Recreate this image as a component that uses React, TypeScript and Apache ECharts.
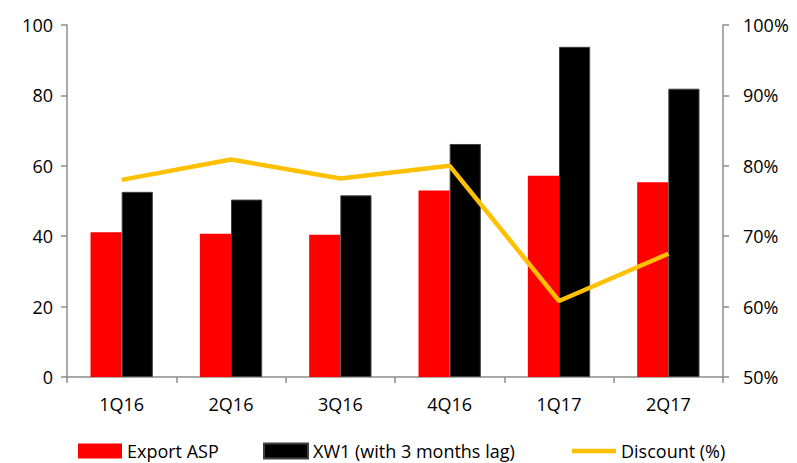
import React, { useEffect, useRef } from "react";
import * as echarts from "echarts";

const categories = ["1Q16", "2Q16", "3Q16", "4Q16", "1Q17", "2Q17"];
const exportAsp = [41.1, 40.7, 40.4, 53.0, 57.2, 55.3];
const xw1 = [52.6, 50.4, 51.6, 66.2, 93.8, 81.9];
const discount = [78.0, 80.9, 78.2, 80.0, 60.8, 67.5];

const FONT = "'Open Sans', 'Liberation Sans', sans-serif";

export default function App() {
  const ref = useRef<HTMLDivElement>(null);
  useEffect(() => {
    if (!ref.current) return;
    const chart = echarts.init(ref.current, undefined, { renderer: "svg" });
    const axisColor = "#8c8c8c";
    const legendBase = {
      bottom: 1,
      itemWidth: 44,
      itemHeight: 15,
      padding: 0,
      textStyle: { fontFamily: FONT, fontSize: 18, lineHeight: 22, color: "#000" },
    };
    chart.setOption({
      animation: false,
      backgroundColor: "#ffffff",
      textStyle: { fontFamily: FONT, color: "#000" },
      grid: { left: 67, right: 74, top: 25, bottom: 86 },
      legend: [
        { ...legendBase, left: 78, data: [{ name: "Export ASP", icon: "rect" }] },
        { ...legendBase, left: 263, data: [{ name: "XW1 (with 3 months lag)", icon: "rect" }] },
        {
          ...legendBase,
          left: 572,
          data: [{ name: "Discount (%)", icon: "path://M0,0 L44,0 L44,4.5 L0,4.5 Z" }],
        },
      ],
      xAxis: {
        type: "category",
        data: categories,
        axisLine: { lineStyle: { color: axisColor, width: 1.5 } },
        axisTick: { show: true, alignWithLabel: false, length: 6, lineStyle: { color: axisColor, width: 1.5 } },
        axisLabel: { fontSize: 18, color: "#000", margin: 18, fontFamily: FONT },
      },
      yAxis: [
        {
          type: "value",
          min: 0,
          max: 100,
          interval: 20,
          splitLine: { show: false },
          axisLine: { show: true, lineStyle: { color: axisColor, width: 1.5 } },
          axisTick: { show: true, length: 6, lineStyle: { color: axisColor, width: 1.5 } },
          axisLabel: { fontSize: 18, color: "#000", margin: 14, fontFamily: FONT },
        },
        {
          type: "value",
          min: 50,
          max: 100,
          interval: 10,
          position: "right",
          splitLine: { show: false },
          axisLine: { show: true, lineStyle: { color: axisColor, width: 1.5 } },
          axisTick: { show: true, length: 6, lineStyle: { color: axisColor, width: 1.5 } },
          axisLabel: { fontSize: 18, color: "#000", margin: 20, formatter: "{value}%", fontFamily: FONT },
        },
      ],
      series: [
        {
          name: "Export ASP",
          type: "bar",
          data: exportAsp,
          barGap: "0%",
          barCategoryGap: "43%",
          itemStyle: { color: "#ff0000" },
        },
        {
          name: "XW1 (with 3 months lag)",
          type: "bar",
          data: xw1,
          itemStyle: { color: "#000000", borderColor: "#404040", borderWidth: 1 },
        },
        {
          name: "Discount (%)",
          type: "line",
          yAxisIndex: 1,
          data: discount,
          symbol: "none",
          lineStyle: { color: "#ffc000", width: 4.5 },
          itemStyle: { color: "#ffc000" },
        },
      ],
    });
    return () => chart.dispose();
  }, []);
  return (
    <div
      ref={ref}
      style={{ position: "fixed", left: 0, top: 0, width: 797, height: 463 }}
    />
  );
}
